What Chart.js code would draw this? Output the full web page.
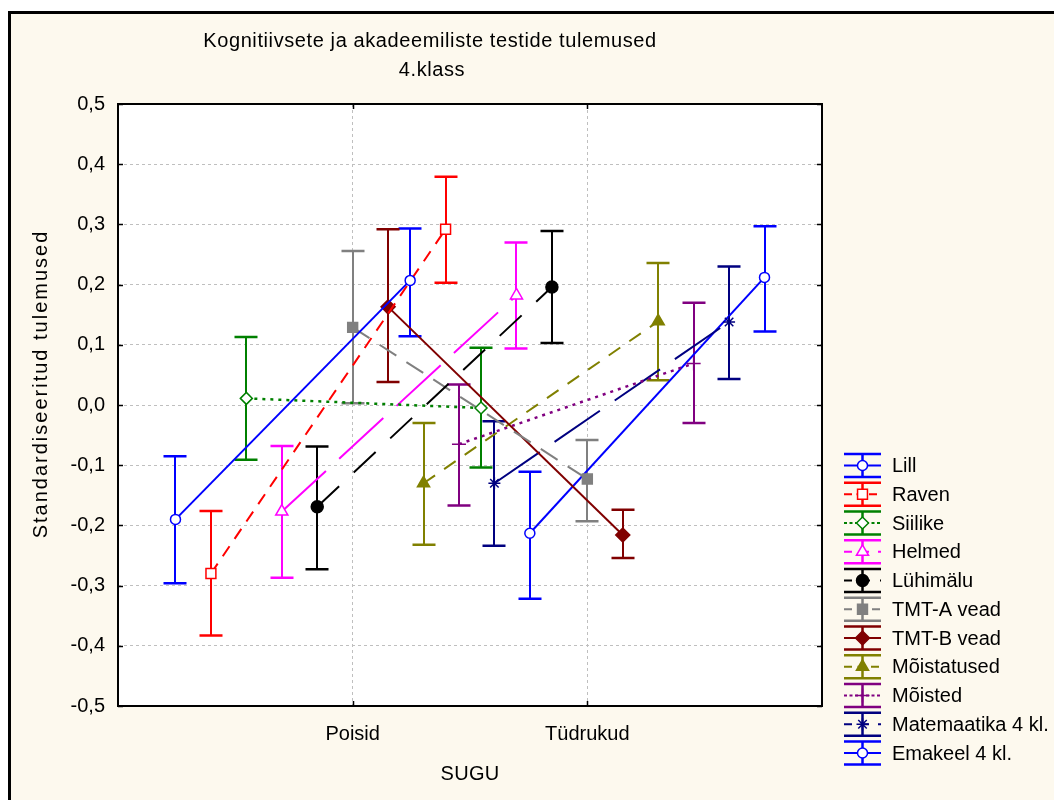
<!DOCTYPE html>
<html>
<head>
<meta charset="utf-8">
<title>Kognitiivsete ja akadeemiliste testide tulemused</title>
<script src="https://cdn.jsdelivr.net/npm/chart.js@4"></script>
<style>
  html, body { margin: 0; padding: 0; background: #fff; }
  #frame { position: absolute; left: 8px; top: 11px; width: 1100px; height: 850px;
           background: #FDF9EE; border-left: 3px solid #000; border-top: 3px solid #000; }
  #wrap { position: absolute; left: 0; top: 0; width: 1054px; height: 800px; }
</style>
</head>
<body>
<div id="frame"></div>
<div id="wrap"><canvas id="chart" width="1054" height="800"></canvas></div>
<script>
// groups on the x axis
const groups = ['Poisid', 'Tüdrukud'];
// test names, in plotting order
const series = ['Lill', 'Raven', 'Siilike', 'Helmed', 'Lühimälu', 'TMT-A vead', 'TMT-B vead',
                'Mõistatused', 'Mõisted', 'Matemaatika 4 kl.', 'Emakeel 4 kl.'];

// means and 95% interval ends, boys
const meanPoisid = [-0.190, -0.280, 0.011, -0.177, -0.169, 0.129, 0.163, -0.130, -0.065, -0.130, -0.213];
const lowPoisid  = [-0.296, -0.383, -0.091, -0.287, -0.273, 0.003, 0.038, -0.232, -0.167, -0.234, -0.322];
const highPoisid = [-0.085, -0.176, 0.113, -0.068, -0.069, 0.256, 0.292, -0.030, 0.034, -0.027, -0.111];

// means and 95% interval ends, girls
const meanTydrukud = [0.207, 0.292, -0.005, 0.182, 0.196, -0.123, -0.216, 0.139, 0.069, 0.138, 0.212];
const lowTydrukud  = [0.114, 0.203, -0.104, 0.094, 0.103, -0.193, -0.254, 0.041, -0.030, 0.043, 0.122];
const highTydrukud = [0.293, 0.379, 0.095, 0.270, 0.289, -0.058, -0.174, 0.236, 0.170, 0.230, 0.297];

// y axis tick values
const yTicks = [-0.5, -0.4, -0.3, -0.2, -0.1, 0, 0.1, 0.2, 0.3, 0.4, 0.5];

// look of each series
const colors = ['#0000FF', '#FF0000', '#008000', '#FF00FF', '#000000', '#808080', '#800000',
                '#808000', '#800080', '#000080', '#0000FF'];
const dashes = [[], [12, 9], [3, 5], [60, 18], [30, 20], [20, 12], [], [14, 11], [3, 5], [55, 18], []];
const pointStyles = ['circle', 'rect', 'rectRot', 'triangle', 'circle', 'rect', 'rectRot',
                     'triangle', 'cross', 'star', 'circle'];
const pointSizes = [5, 7, 6, 7, 6, 7, 7, 7, 7, 6, 5];
const hollow = [true, true, true, true, false, false, false, false, false, false, true];

const FONT = '"Liberation Sans", Arial, sans-serif';
const slot = 0.151;       // side shift between series within a group
const capHalf = 11.5;     // half width of the error bar caps

const offsetOf = i => (i - (series.length - 1) / 2) * slot;

const datasets = series.map((name, i) => ({
  label: name,
  data: [
    { x: 1 + offsetOf(i), y: meanPoisid[i] },
    { x: 2 + offsetOf(i), y: meanTydrukud[i] }
  ],
  showLine: true,
  tension: 0,
  borderColor: colors[i],
  borderWidth: dashes[i][0] === 3 ? 2.5 : 2,
  borderDash: dashes[i],
  pointStyle: pointStyles[i],
  pointRadius: pointSizes[i],
  pointBorderWidth: 1.5,
  pointBorderColor: colors[i],
  pointBackgroundColor: hollow[i] ? '#FFFFFF' : colors[i]
}));

const lows = [lowPoisid, lowTydrukud];
const highs = [highPoisid, highTydrukud];

const decor = {
  id: 'decor',
  beforeDraw(chart) {
    const { ctx, chartArea: a } = chart;
    ctx.save();
    ctx.fillStyle = '#FFFFFF';
    ctx.fillRect(a.left, a.top, a.right - a.left, a.bottom - a.top);
    ctx.restore();
  },
  beforeDatasetsDraw(chart) {
    // error bars sit under the lines and markers
    const { ctx, scales: { x, y } } = chart;
    ctx.save();
    ctx.setLineDash([]);
    series.forEach((name, i) => {
      ctx.strokeStyle = colors[i];
      for (let g = 0; g < groups.length; g++) {
        const px = Math.round(x.getPixelForValue(g + 1 + offsetOf(i)));
        const lo = y.getPixelForValue(lows[g][i]);
        const hi = y.getPixelForValue(highs[g][i]);
        ctx.lineWidth = 2;
        ctx.beginPath();
        ctx.moveTo(px, lo); ctx.lineTo(px, hi);
        ctx.stroke();
        ctx.lineWidth = 2.5;
        ctx.beginPath();
        ctx.moveTo(px - capHalf, lo); ctx.lineTo(px + capHalf, lo);
        ctx.moveTo(px - capHalf, hi); ctx.lineTo(px + capHalf, hi);
        ctx.stroke();
      }
    });
    ctx.restore();
  },
  afterDraw(chart) {
    const { ctx, chartArea: a, scales: { x, y } } = chart;
    ctx.save();
    ctx.setLineDash([]);
    ctx.strokeStyle = '#000';

    // plot frame with inward ticks
    ctx.lineWidth = 2;
    ctx.strokeRect(a.left, a.top, a.right - a.left, a.bottom - a.top);
    ctx.lineWidth = 1.5;
    ctx.beginPath();
    yTicks.forEach(v => {
      const py = Math.round(y.getPixelForValue(v)) + 0.5;
      ctx.moveTo(a.left, py); ctx.lineTo(a.left + 5, py);
      ctx.moveTo(a.right, py); ctx.lineTo(a.right - 5, py);
    });
    groups.forEach((gName, g) => {
      const px = Math.round(x.getPixelForValue(g + 1)) + 0.5;
      ctx.moveTo(px, a.top); ctx.lineTo(px, a.top + 5);
      ctx.moveTo(px, a.bottom); ctx.lineTo(px, a.bottom - 5);
    });
    ctx.stroke();

    // titles
    ctx.fillStyle = '#000';
    ctx.font = '20px ' + FONT;
    ctx.textAlign = 'center';
    ctx.textBaseline = 'middle';
    ctx.letterSpacing = '0.6px';
    ctx.fillText('Kognitiivsete ja akadeemiliste testide tulemused', 430, 41);
    ctx.fillText('4.klass', 432, 70);
    ctx.letterSpacing = '0.3px';
    ctx.fillText('SUGU', (a.left + a.right) / 2, 774);
    ctx.save();
    ctx.translate(41, 384);
    ctx.rotate(-Math.PI / 2);
    ctx.letterSpacing = '2px';
    ctx.fillText('Standardiseeritud tulemused', 0, 0);
    ctx.restore();
    ctx.letterSpacing = '0px';

    // legend
    const lx = 844, lw = 37, ly0 = 465.5, step = 28.75;
    series.forEach((name, i) => {
      const cy = ly0 + i * step;
      const cx = lx + lw / 2;
      ctx.strokeStyle = colors[i];
      ctx.lineWidth = 2.5;
      ctx.setLineDash([]);
      ctx.beginPath();
      ctx.moveTo(lx, cy - capHalf); ctx.lineTo(lx + lw, cy - capHalf);
      ctx.moveTo(lx, cy + capHalf); ctx.lineTo(lx + lw, cy + capHalf);
      ctx.moveTo(cx, cy - capHalf); ctx.lineTo(cx, cy + capHalf);
      ctx.stroke();
      ctx.lineWidth = 2;
      ctx.setLineDash(dashes[i].length ? [Math.min(dashes[i][0], 8), dashes[i][1] / 2] : []);
      ctx.beginPath();
      ctx.moveTo(lx, cy); ctx.lineTo(lx + lw, cy);
      ctx.stroke();
      ctx.setLineDash([]);
      ctx.lineWidth = 1.5;
      ctx.fillStyle = hollow[i] ? '#FFFFFF' : colors[i];
      Chart.helpers.drawPoint(ctx, {
        pointStyle: pointStyles[i], radius: pointSizes[i], rotation: 0, borderWidth: 1.5
      }, cx, cy);
      ctx.fillStyle = '#000';
      ctx.textAlign = 'left';
      ctx.fillText(name, 892, cy + 1);
    });
    ctx.restore();
  }
};

new Chart(document.getElementById('chart'), {
  type: 'scatter',
  data: { datasets },
  plugins: [decor],
  options: {
    responsive: false,
    animation: false,
    devicePixelRatio: 1,
    events: [],
    layout: { padding: { left: 0, top: 104, right: 232, bottom: 0 } },
    plugins: { legend: { display: false }, tooltip: { enabled: false }, title: { display: false } },
    scales: {
      x: {
        type: 'linear',
        min: 0,
        max: 3,
        afterBuildTicks: s => { s.ticks = groups.map((g, k) => ({ value: k + 1 })); },
        afterFit: s => { s.height = 94; },
        ticks: {
          callback: v => groups[v - 1],
          font: { family: FONT, size: 20 },
          color: '#000',
          padding: 16,
          maxRotation: 0
        },
        grid: { color: '#BFBFBF', lineWidth: 1, drawTicks: false },
        border: { display: false, dash: [3, 3] }
      },
      y: {
        type: 'linear',
        min: -0.5,
        max: 0.5,
        afterBuildTicks: s => { s.ticks = yTicks.map(v => ({ value: v })); },
        afterFit: s => { s.width = 118; },
        ticks: {
          callback: v => v.toFixed(1).replace('.', ','),
          font: { family: FONT, size: 20 },
          color: '#000',
          padding: 13
        },
        grid: { color: '#BFBFBF', lineWidth: 1, drawTicks: false },
        border: { display: false, dash: [3, 3] }
      }
    }
  }
});
</script>
</body>
</html>
